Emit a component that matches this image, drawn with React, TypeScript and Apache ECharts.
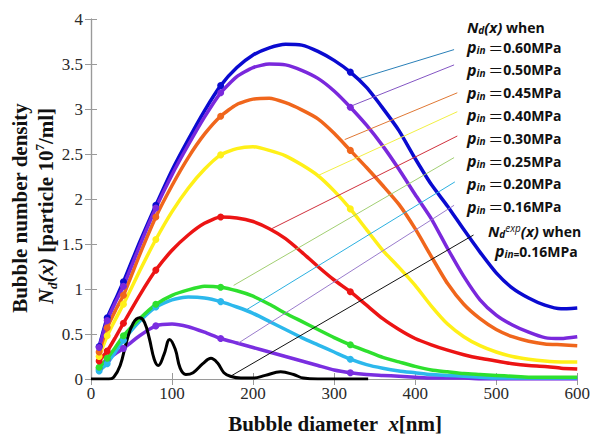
import React, { useEffect, useRef } from "react";
import * as echarts from "echarts";

// ---- data ----
const X_GRID = [10, 20, 30, 40, 60, 80, 100, 120, 140, 160, 180, 200, 220, 240, 260, 280, 300, 320, 340, 360, 380, 400, 420, 440, 460, 480, 500, 520, 540, 560, 580, 600];
const MARKER_X = [10, 20, 40, 80, 160, 320];
const P060 = [0.36, 0.68, 0.88, 1.08, 1.52, 1.93, 2.32, 2.66, 2.98, 3.26, 3.46, 3.60, 3.68, 3.72, 3.71, 3.64, 3.54, 3.41, 3.24, 3.01, 2.76, 2.45, 2.16, 1.92, 1.66, 1.41, 1.18, 1.01, 0.90, 0.82, 0.78, 0.79];
const P050 = [0.35, 0.65, 0.85, 1.03, 1.48, 1.90, 2.27, 2.60, 2.91, 3.18, 3.36, 3.46, 3.50, 3.49, 3.43, 3.34, 3.20, 3.02, 2.82, 2.59, 2.33, 2.05, 1.78, 1.45, 1.14, 0.88, 0.71, 0.60, 0.52, 0.46, 0.45, 0.47];
const P045 = [0.30, 0.57, 0.76, 0.93, 1.38, 1.80, 2.15, 2.46, 2.72, 2.92, 3.05, 3.11, 3.12, 3.07, 2.99, 2.89, 2.73, 2.54, 2.35, 2.15, 1.94, 1.67, 1.36, 1.06, 0.83, 0.67, 0.55, 0.47, 0.42, 0.39, 0.38, 0.37];
const P040 = [0.25, 0.48, 0.66, 0.83, 1.20, 1.55, 1.86, 2.12, 2.33, 2.49, 2.56, 2.58, 2.54, 2.48, 2.38, 2.26, 2.09, 1.89, 1.66, 1.43, 1.24, 1.04, 0.81, 0.61, 0.47, 0.37, 0.30, 0.25, 0.22, 0.20, 0.19, 0.19];
const P030 = [0.20, 0.31, 0.46, 0.62, 0.93, 1.21, 1.43, 1.60, 1.73, 1.80, 1.79, 1.75, 1.67, 1.56, 1.41, 1.25, 1.10, 0.97, 0.82, 0.67, 0.55, 0.45, 0.38, 0.32, 0.27, 0.23, 0.20, 0.17, 0.15, 0.14, 0.12, 0.11];
const P025 = [0.13, 0.23, 0.35, 0.48, 0.67, 0.83, 0.93, 0.99, 1.03, 1.02, 0.98, 0.92, 0.83, 0.73, 0.64, 0.55, 0.46, 0.38, 0.31, 0.24, 0.19, 0.14, 0.10, 0.08, 0.06, 0.05, 0.04, 0.03, 0.02, 0.02, 0.02, 0.02];
const P020 = [0.09, 0.17, 0.30, 0.43, 0.64, 0.80, 0.88, 0.91, 0.90, 0.86, 0.80, 0.73, 0.64, 0.55, 0.46, 0.38, 0.30, 0.22, 0.16, 0.12, 0.09, 0.07, 0.05, 0.04, 0.03, 0.02, 0.01, 0.01, 0.01, 0.01, 0.01, 0.01];
const P016 = [0.11, 0.21, 0.28, 0.34, 0.48, 0.59, 0.61, 0.58, 0.52, 0.45, 0.40, 0.35, 0.30, 0.25, 0.20, 0.15, 0.10, 0.07, 0.05, 0.04, 0.03, 0.02, 0.01, 0.01, 0.01, 0.0, 0.0, 0.0, 0.0, 0.0, 0.0, 0.0];

const EXP_X = [0, 22, 28, 36, 44, 52, 60, 66, 72, 78, 83, 90, 97, 104, 110, 117, 126, 138, 148, 156, 164, 172, 185, 200, 215, 234, 250, 262, 280, 342];
const EXP_Y = [0, 0, 0.02, 0.15, 0.42, 0.62, 0.68, 0.63, 0.45, 0.22, 0.15, 0.27, 0.44, 0.33, 0.12, 0.05, 0.07, 0.17, 0.23, 0.18, 0.07, 0.03, 0.01, 0.01, 0.04, 0.08, 0.05, 0.01, 0, 0];

const LEGEND_LABELS = ["0.60MPa", "0.50MPa", "0.45MPa", "0.40MPa", "0.30MPa", "0.25MPa", "0.20MPa", "0.16MPa"];
const EXP_LABEL = "0.16MPa";

// leader lines (data coords): [x at label end, y, x at curve end, y]
const LEADER_060 = [448, 3.66, 332, 3.34];
const LEADER_050 = [448, 3.49, 323, 3.04];
const LEADER_045 = [452, 3.18, 313, 2.66];
const LEADER_040 = [452, 2.97, 280, 2.26];
const LEADER_030 = [452, 2.70, 223, 1.67];
const LEADER_025 = [448, 2.46, 176, 1.04];
const LEADER_020 = [449, 2.19, 192, 0.77];
const LEADER_016 = [448, 1.93, 182, 0.40];
const LEADER_EXP = [472, 1.60, 174, 0.04];

const SERIF = "'Liberation Serif', 'Times New Roman', serif";
const SANS = "'Open Sans', 'Noto Sans', sans-serif";

function curveData(ys: number[]) {
  return X_GRID.map((x, i) =>
    MARKER_X.includes(x)
      ? { value: [x, ys[i]] }
      : { value: [x, ys[i]], symbol: "none" }
  );
}

function leader(l: number[], color: string) {
  return {
    silent: true,
    symbol: ["none", "none"],
    label: { show: false },
    lineStyle: { color, width: 1, type: "solid" },
    emphasis: { disabled: true },
    data: [[{ coord: [l[0], l[1]] }, { coord: [l[2], l[3]] }]],
  };
}

function curve(name: string, ys: number[], color: string, l: number[], lcolor: string) {
  return {
    name,
    type: "line",
    data: curveData(ys),
    smooth: 0.2,
    symbol: "circle",
    symbolSize: 7,
    showSymbol: true,
    showAllSymbol: true,
    lineStyle: { color, width: 3.5 },
    itemStyle: { color },
    emphasis: { disabled: true },
    markLine: leader(l, lcolor),
  };
}

const richLegend = {
  p: { fontFamily: SANS, fontWeight: "bold", fontStyle: "italic", fontSize: 16, lineHeight: 16, verticalAlign: "middle", fill: "#111" },
  s: { fontFamily: SANS, fontWeight: "bold", fontStyle: "italic", fontSize: 10, lineHeight: 9, verticalAlign: "bottom", fill: "#111" },
  sp: { fontFamily: SANS, fontStyle: "italic", fontSize: 10, lineHeight: 9, verticalAlign: "top", fill: "#111" },
  e: { fontFamily: "'Noto Sans CJK SC', sans-serif", fontSize: 15, lineHeight: 16, verticalAlign: "middle", fill: "#111" },
  v: { fontFamily: SANS, fontWeight: "bold", fontSize: 14, lineHeight: 16, verticalAlign: "middle", fill: "#111" },
  n: { fontFamily: SANS, fontWeight: "bold", fontStyle: "italic", fontSize: 15, lineHeight: 16, verticalAlign: "middle", fill: "#111" },
};

const richTitle = {
  b: { fontFamily: SERIF, fontWeight: "bold", fontSize: 21, lineHeight: 26, verticalAlign: "middle", fill: "#111" },
  i: { fontFamily: SERIF, fontWeight: "bold", fontStyle: "italic", fontSize: 21, lineHeight: 26, verticalAlign: "middle", fill: "#111" },
  s: { fontFamily: SERIF, fontWeight: "bold", fontStyle: "italic", fontSize: 13, lineHeight: 13, verticalAlign: "bottom", fill: "#111" },
  u: { fontFamily: SERIF, fontWeight: "bold", fontSize: 13, lineHeight: 13, verticalAlign: "top", fill: "#111" },
};

export default function App() {
  const ref = useRef<HTMLDivElement>(null);
  useEffect(() => {
    if (!ref.current) return;
    const chart = echarts.init(ref.current, null, { renderer: "svg" });

    const graphics: any[] = [];
    graphics.push({
      type: "text", x: 467, y: 27,
      style: { text: "{n|N}{s|d}{n|(x)}{v| when}", rich: richLegend, verticalAlign: "middle" },
    });
    LEGEND_LABELS.forEach((lab, i) => {
      graphics.push({
        type: "text", x: 467, y: 47 + i * 22.8,
        style: { text: `{p|p}{s|in }{e|＝}{v|${lab}}`, rich: richLegend, verticalAlign: "middle" },
      });
    });
    graphics.push({
      type: "text", x: 488, y: 231,
      style: { text: "{n|N}{s|d}{sp|exp}{n|(x)}{v| when}", rich: richLegend, verticalAlign: "middle" },
    });
    graphics.push({
      type: "text", x: 495, y: 251,
      style: { text: `{p|p}{s|in=}{v|${EXP_LABEL}}`, rich: richLegend, verticalAlign: "middle" },
    });
    graphics.push({
      type: "text", x: 20, y: 208, rotation: Math.PI / 2,
      style: { text: "{b|Bubble number density}", rich: richTitle, align: "center", verticalAlign: "middle" },
    });
    graphics.push({
      type: "text", x: 46, y: 206, rotation: Math.PI / 2,
      style: { text: "{i|N}{s|d}{i|(x)}{b| [particle 10}{u|7}{b|/ml]}", rich: richTitle, align: "center", verticalAlign: "middle" },
    });
    graphics.push({
      type: "text", x: 335, y: 424,
      style: { text: "{b|Bubble diameter  }{i|x}{b|[nm]}", rich: richTitle, align: "center", verticalAlign: "middle" },
    });

    const axisLine = { show: true, lineStyle: { color: "#9a9a9a", width: 1.2 } };
    const axisTick = { show: true, inside: true, length: 6, lineStyle: { color: "#9a9a9a", width: 1 } };
    const axisLabel = { color: "#2a2a2a", fontFamily: SERIF, fontSize: 17 };

    chart.setOption({
      animation: false,
      backgroundColor: "#ffffff",
      grid: { left: 91, right: 12, top: 19, bottom: 58, containLabel: false },
      xAxis: [
        { type: "value", position: "bottom", min: 0, max: 600, interval: 100, axisLine, axisTick, axisLabel: { ...axisLabel, margin: 6 }, splitLine: { show: false } },
        { type: "value", position: "top", min: 0, max: 600, interval: 100, axisLine, axisTick, axisLabel: { show: false }, splitLine: { show: false } },
      ],
      yAxis: [
        { type: "value", position: "left", min: 0, max: 4, interval: 0.5, axisLine, axisTick, axisLabel: { ...axisLabel, margin: 8 }, splitLine: { show: false } },
        { type: "value", position: "right", min: 0, max: 4, interval: 0.5, axisLine, axisTick, axisLabel: { show: false }, splitLine: { show: false } },
      ],
      graphic: graphics,
      series: [
        curve("0.16MPa", P016, "#7a2ee0", LEADER_016, "#9a7ccc"),
        curve("0.20MPa", P020, "#2cb8ec", LEADER_020, "#2cb0e0"),
        curve("0.25MPa", P025, "#2ee02e", LEADER_025, "#a2cf72"),
        curve("0.30MPa", P030, "#ec1414", LEADER_030, "#d0303c"),
        curve("0.40MPa", P040, "#fff018", LEADER_040, "#f2f044"),
        curve("0.45MPa", P045, "#f0661c", LEADER_045, "#e07834"),
        curve("0.60MPa", P060, "#0a0ad0", LEADER_060, "#2a80b8"),
        curve("0.50MPa", P050, "#7a28dc", LEADER_050, "#8456c4"),
        {
          name: "exp",
          type: "line",
          data: EXP_X.map((x, i) => [x, EXP_Y[i]]),
          smooth: 0.4,
          showSymbol: false,
          lineStyle: { color: "#000000", width: 3 },
          itemStyle: { color: "#000000" },
          emphasis: { disabled: true },
          markLine: leader(LEADER_EXP, "#111111"),
        },
      ],
    });
    return () => chart.dispose();
  }, []);
  return <div ref={ref} style={{ position: "fixed", left: 0, top: 0, width: 593, height: 437, background: "#fff" }} />;
}
